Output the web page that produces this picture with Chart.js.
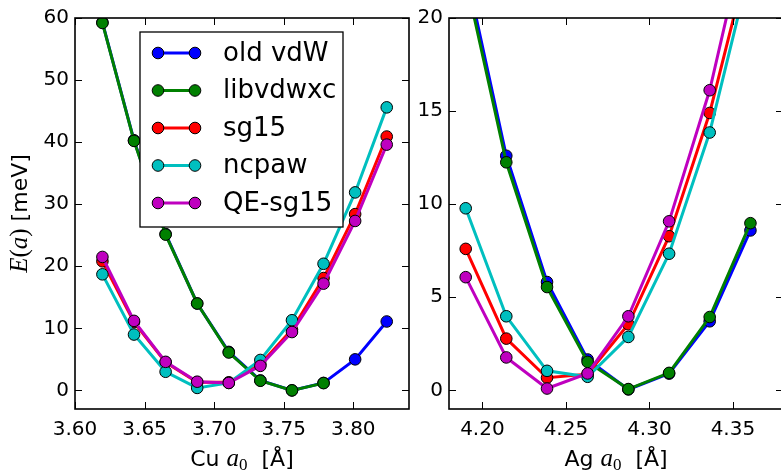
<!DOCTYPE html>
<html><head><meta charset="utf-8">
<script src="https://cdn.jsdelivr.net/npm/chart.js@4/dist/chart.umd.min.js"></script>
<style>
html,body{margin:0;padding:0;background:#fff;overflow:hidden;width:781px;height:473px;}
canvas{position:absolute;top:0;}
#c1{left:0}
#c2{left:415px}
</style></head><body>
<canvas id="c1" width="430" height="473"></canvas>
<canvas id="c2" width="381" height="473"></canvas>
<script>
// ---- data ----
const seriesNames = ['old vdW', 'libvdwxc', 'sg15', 'ncpaw', 'QE-sg15'];
const seriesColors = ['#0000ff', '#008000', '#ff0000', '#00bfbf', '#bf00bf'];

const cuX = [3.6197, 3.6424, 3.6651, 3.6878, 3.7105, 3.7332, 3.7559, 3.7786, 3.8013, 3.8240];
const cuOldVdw = [59.3, 40.3, 25.2, 14.0, 6.2, 1.6, 0.0, 1.2, 5.0, 11.1];
const cuLibvdwxc = [59.2, 40.2, 25.1, 14.0, 6.1, 1.55, 0.0, 1.17];
const cuSg15 = [20.8, 11.0, 4.5, 1.3, 1.3, 4.2, 9.8, 18.1, 28.4, 40.9];
const cuNcpaw = [18.7, 9.0, 3.0, 0.4, 1.2, 4.9, 11.3, 20.4, 31.9, 45.6];
const cuQeSg15 = [21.5, 11.2, 4.6, 1.4, 1.2, 3.95, 9.4, 17.2, 27.3, 39.6];

const agX = [4.1900, 4.2143, 4.2387, 4.2630, 4.2874, 4.3118, 4.3361, 4.3605];
const agOldVdw = [22.6, 12.6, 5.82, 1.66, 0.05, 0.9, 3.71, 8.59];
const agLibvdwxc = [22.1, 12.25, 5.55, 1.53, 0.07, 0.94, 3.94, 8.98];
const agSg15 = [7.6, 2.78, 0.68, 0.87, 3.55, 8.28, 14.9, 23.6];
const agNcpaw = [9.78, 3.98, 1.05, 0.73, 2.87, 7.34, 13.85, 22.8];
const agQeSg15 = [6.08, 1.77, 0.1, 0.91, 3.98, 9.08, 16.12, 25.6];

const cuXTicks = [3.60, 3.65, 3.70, 3.75, 3.80];
const cuYTicks = [0, 10, 20, 30, 40, 50, 60];
const agXTicks = [4.20, 4.25, 4.30, 4.35];
const agYTicks = [0, 5, 10, 15, 20];

// ---- styling / helpers ----
const SANS = '"DejaVu Sans", sans-serif';
const SERIF = '"Liberation Serif", "DejaVu Serif", serif';

function pts(xs, ys) { return ys.map((y, i) => ({x: xs[i], y: y})); }

function makeDatasets(xs, seriesList) {
  return seriesList.map((ys, i) => ({
    label: seriesNames[i],
    data: pts(xs, ys),
    borderColor: seriesColors[i],
    backgroundColor: seriesColors[i],
    pointBackgroundColor: seriesColors[i],
    pointBorderColor: '#000',
    pointBorderWidth: 1,
    pointRadius: 5.8,
    borderWidth: 3,
    tension: 0,
    order: seriesList.length - i
  }));
}

function drawParts(ctx, parts, x, y, align) {
  let total = 0;
  parts.forEach(p => { ctx.font = p.f; p.w = ctx.measureText(p.t).width; total += p.w; });
  let cx = align === 'center' ? x - total / 2 : x;
  ctx.textBaseline = 'alphabetic';
  ctx.textAlign = 'left';
  parts.forEach(p => { ctx.font = p.f; ctx.fillText(p.t, cx, y + (p.dy || 0)); cx += p.w; });
}

const framePlugin = {
  id: 'frame',
  afterDraw(chart, args, opts) {
    const ctx = chart.ctx, a = chart.chartArea;
    const xs = chart.scales.x, ys = chart.scales.y;
    ctx.save();
    ctx.strokeStyle = '#000';
    // ticks (inward, all four sides)
    ctx.lineWidth = 1;
    const L = 7;
    ctx.beginPath();
    xs.ticks.forEach(t => {
      const px = Math.round(xs.getPixelForValue(t.value)) + 0.5;
      ctx.moveTo(px, a.bottom); ctx.lineTo(px, a.bottom - L);
      ctx.moveTo(px, a.top); ctx.lineTo(px, a.top + L);
    });
    ys.ticks.forEach(t => {
      const py = Math.round(ys.getPixelForValue(t.value)) + 0.5;
      ctx.moveTo(a.left, py); ctx.lineTo(a.left + L, py);
      ctx.moveTo(a.right, py); ctx.lineTo(a.right - L, py);
    });
    ctx.stroke();
    // frame
    ctx.lineWidth = 1.6;
    ctx.strokeRect(a.left, a.top, a.right - a.left, a.bottom - a.top);

    // axis labels
    ctx.fillStyle = '#000';
    drawParts(ctx, opts.xLabel, (a.left + a.right) / 2, 466, 'center');
    if (opts.yLabel) {
      ctx.save();
      ctx.translate(27, (a.top + a.bottom) / 2);
      ctx.rotate(-Math.PI / 2);
      drawParts(ctx, opts.yLabel, 0, 0, 'center');
      ctx.restore();
    }

    // legend
    if (opts.legend) {
      const bx = a.left + 65, by = a.top + 14, bw = 203, bh = 195;
      ctx.fillStyle = '#fff';
      ctx.fillRect(bx, by, bw, bh);
      ctx.lineWidth = 1.3;
      ctx.strokeStyle = '#000';
      ctx.strokeRect(bx, by, bw, bh);
      chart.data.datasets.forEach((ds, i) => {
        const ry = by + 21 + i * 37.5;
        const x1 = bx + 18, x2 = bx + 55;
        ctx.strokeStyle = ds.borderColor;
        ctx.lineWidth = 3;
        ctx.beginPath(); ctx.moveTo(x1, ry); ctx.lineTo(x2, ry); ctx.stroke();
        [x1, x2].forEach(px => {
          ctx.beginPath();
          ctx.arc(px, ry, 5.8, 0, Math.PI * 2);
          ctx.fillStyle = ds.borderColor; ctx.fill();
          ctx.lineWidth = 1; ctx.strokeStyle = '#000'; ctx.stroke();
        });
        ctx.fillStyle = '#000';
        ctx.font = '26px ' + SANS;
        ctx.textAlign = 'left';
        ctx.textBaseline = 'middle';
        ctx.fillText(ds.label, bx + 83, ry + 1);
      });
    }
    ctx.restore();
  }
};

function makeChart(canvasId, cfg) {
  const canvas = document.getElementById(canvasId);
  return new Chart(canvas, {
    type: 'line',
    data: { datasets: makeDatasets(cfg.xs, cfg.series) },
    options: {
      responsive: false,
      animation: false,
      devicePixelRatio: 1,
      layout: { padding: { left: 0, top: 17, right: cfg.padRight, bottom: 0 } },
      plugins: {
        legend: { display: false },
        tooltip: { enabled: false },
        frame: { xLabel: cfg.xLabel, yLabel: cfg.yLabel, legend: cfg.legend }
      },
      scales: {
        x: {
          type: 'linear', min: cfg.xMin, max: cfg.xMax,
          afterBuildTicks: s => { s.ticks = cfg.xTicks.map(v => ({value: v})); },
          afterFit: s => { s.height = 64; },
          grid: { display: false, drawTicks: false },
          border: { display: false },
          ticks: { color: '#000', font: { family: SANS, size: 20 }, padding: 9,
                   maxRotation: 0, autoSkip: false, callback: v => v.toFixed(2) }
        },
        y: {
          type: 'linear', min: cfg.yMin, max: cfg.yMax,
          afterBuildTicks: s => { s.ticks = cfg.yTicks.map(v => ({value: v})); },
          afterFit: s => { s.width = cfg.yWidth; },
          grid: { display: false, drawTicks: false },
          border: { display: false },
          ticks: { color: '#000', font: { family: SANS, size: 20 }, padding: 6,
                   autoSkip: false, callback: v => String(v) }
        }
      }
    },
    plugins: [framePlugin]
  });
}

const labelSans = '22px ' + SANS;
makeChart('c1', {
  xs: cuX,
  series: [cuOldVdw, cuLibvdwxc, cuSg15, cuNcpaw, cuQeSg15],
  xMin: 3.60, xMax: 3.84, yMin: -3, yMax: 60,
  xTicks: cuXTicks, yTicks: cuYTicks,
  padRight: 21, yWidth: 75, legend: true,
  xLabel: [{t: 'Cu ', f: labelSans}, {t: 'a', f: 'italic 25px ' + SERIF}, {t: '0', f: '17px ' + SERIF, dy: 4}, {t: '  [Å]', f: labelSans}],
  yLabel: [{t: 'E', f: 'italic 25px ' + SERIF}, {t: '(', f: '25px ' + SERIF}, {t: 'a', f: 'italic 25px ' + SERIF}, {t: ')', f: '25px ' + SERIF}, {t: ' [meV]', f: labelSans}]
});
makeChart('c2', {
  xs: agX,
  series: [agOldVdw, agLibvdwxc, agSg15, agNcpaw, agQeSg15],
  xMin: 4.18, xMax: 4.38, yMin: -1, yMax: 20,
  xTicks: agXTicks, yTicks: agYTicks,
  padRight: 13, yWidth: 34, legend: false,
  xLabel: [{t: 'Ag ', f: labelSans}, {t: 'a', f: 'italic 25px ' + SERIF}, {t: '0', f: '17px ' + SERIF, dy: 4}, {t: '  [Å]', f: labelSans}],
  yLabel: null
});
</script>
</body></html>
